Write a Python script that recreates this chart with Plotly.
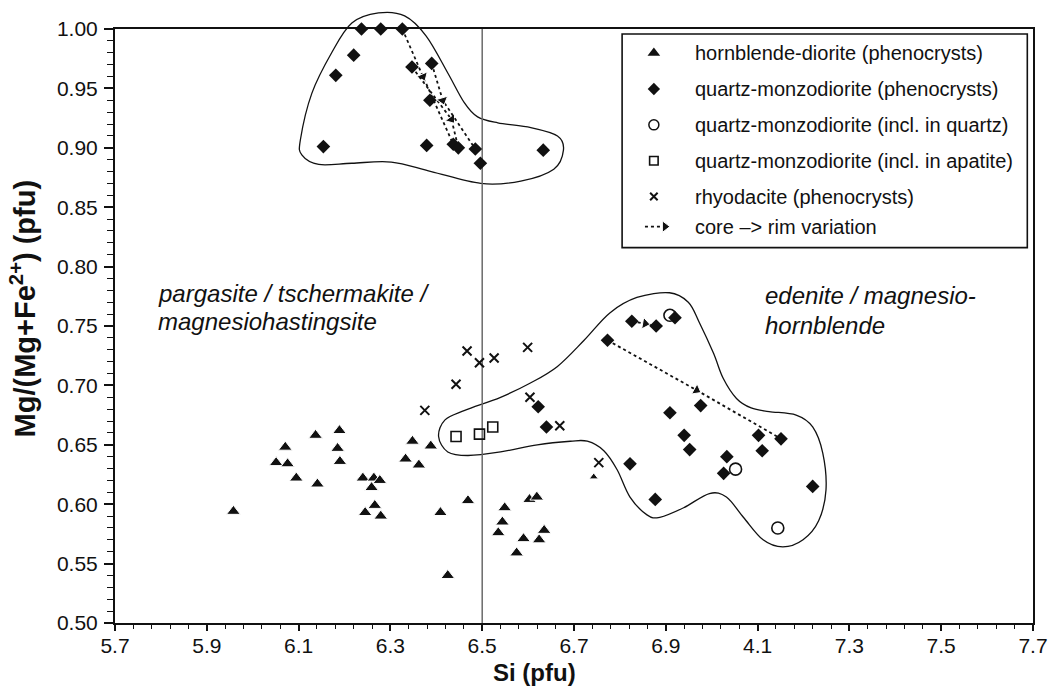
import plotly.graph_objects as go

# ---------------- data (Si pfu, Mg/(Mg+Fe2+)) ----------------
hbl_dior_si = [5.958, 6.051, 6.076, 6.071, 6.095, 6.137, 6.141, 6.189, 6.185, 6.190,
               6.240, 6.264, 6.277, 6.259, 6.245, 6.266, 6.279, 6.348, 6.388, 6.333,
               6.362, 6.409, 6.469, 6.425, 6.549, 6.544, 6.535, 6.603, 6.619, 6.590,
               6.575, 6.624, 6.635, 6.743]
hbl_dior_mg = [0.594, 0.635, 0.634, 0.648, 0.622, 0.658, 0.617, 0.662, 0.647, 0.636,
               0.622, 0.622, 0.620, 0.614, 0.593, 0.599, 0.590, 0.653, 0.649, 0.638,
               0.633, 0.593, 0.603, 0.540, 0.597, 0.585, 0.576, 0.604, 0.606, 0.571,
               0.559, 0.570, 0.578, 0.623]

qmd_pheno_si = [6.237, 6.279, 6.326, 6.220, 6.181, 6.347, 6.390, 6.386, 6.154, 6.379,
                6.437, 6.448, 6.485, 6.496, 6.633,
                6.826, 6.879, 6.920, 6.773, 6.976, 6.909, 6.940, 6.952, 7.102, 7.151,
                7.110, 7.033, 7.026, 7.220, 6.877, 6.822, 6.622, 6.640]
qmd_pheno_mg = [1.000, 1.000, 1.000, 0.978, 0.961, 0.968, 0.971, 0.940, 0.901, 0.902,
                0.903, 0.900, 0.899, 0.887, 0.898,
                0.754, 0.750, 0.757, 0.738, 0.683, 0.677, 0.658, 0.646, 0.658, 0.655,
                0.645, 0.640, 0.626, 0.615, 0.604, 0.634, 0.682, 0.665]

qmd_qtz_si = [6.909, 7.052, 7.144]
qmd_qtz_mg = [0.759, 0.6295, 0.580]

qmd_ap_si = [6.443, 6.494, 6.523]
qmd_ap_mg = [0.657, 0.659, 0.665]

rhyo_si = [6.467, 6.494, 6.526, 6.599, 6.443, 6.375, 6.604, 6.669, 6.754]
rhyo_mg = [0.729, 0.719, 0.723, 0.732, 0.701, 0.679, 0.690, 0.666, 0.635]

# core -> rim trajectories (core, intermediate, rim)
core_rim_si = [[6.326, 6.371, 6.437], [6.347, 6.433, 6.448], [6.390, 6.414, 6.485],
               [6.826, 6.855, 6.879], [6.773, 6.967, 7.151]]
core_rim_mg = [[1.000, 0.960, 0.903], [0.968, 0.924, 0.900], [0.971, 0.940, 0.899],
               [0.754, 0.752, 0.750], [0.738, 0.696, 0.655]]

# field outlines (data units)
outline_top_si = [6.104, 6.129, 6.172, 6.216, 6.274, 6.331, 6.378, 6.425, 6.461, 6.490,
                  6.534, 6.606, 6.664, 6.677, 6.656, 6.584, 6.497, 6.389, 6.302, 6.216,
                  6.144, 6.107]
outline_top_mg = [0.907, 0.946, 0.980, 1.005, 1.0135, 1.011, 0.994, 0.963, 0.938, 0.926,
                  0.921, 0.917, 0.910, 0.898, 0.882, 0.872, 0.870, 0.880, 0.888, 0.887,
                  0.886, 0.894]
outline_low_si = [6.405, 6.419, 6.462, 6.540, 6.605, 6.664, 6.722, 6.778, 6.837, 6.908,
                  6.949, 6.973, 7.004, 7.025, 7.054, 7.086, 7.125, 7.184, 7.220, 7.242,
                  7.249, 7.233, 7.199, 7.155, 7.112, 7.069, 7.032, 6.995, 6.939, 6.887,
                  6.859, 6.822, 6.794, 6.765, 6.729, 6.692, 6.620, 6.540, 6.469, 6.425]
outline_low_mg = [0.657, 0.671, 0.679, 0.690, 0.702, 0.716, 0.738, 0.761, 0.774, 0.778,
                  0.770, 0.753, 0.727, 0.706, 0.689, 0.681, 0.678, 0.675, 0.665, 0.643,
                  0.612, 0.586, 0.570, 0.564, 0.570, 0.589, 0.606, 0.609, 0.597, 0.589,
                  0.591, 0.606, 0.629, 0.645, 0.653, 0.653, 0.650, 0.644, 0.641, 0.644]

x_tickvals = [5.7, 5.9, 6.1, 6.3, 6.5, 6.7, 6.9, 7.1, 7.3, 7.5, 7.7]
x_ticktext = ["5.7", "5.9", "6.1", "6.3", "6.5", "6.7", "6.9", "4.1", "7.3", "7.5", "7.7"]
y_tickvals = [0.50, 0.55, 0.60, 0.65, 0.70, 0.75, 0.80, 0.85, 0.90, 0.95, 1.00]

legend_labels = ["hornblende-diorite (phenocrysts)",
                 "quartz-monzodiorite (phenocrysts)",
                 "quartz-monzodiorite (incl. in quartz)",
                 "quartz-monzodiorite (incl. in apatite)",
                 "rhyodacite (phenocrysts)",
                 "core \u2013> rim variation"]

# ---------------- figure ----------------
X0, X1 = 5.7, 7.7
Y0, Y1 = 0.5, 1.0
FONT = "Liberation Sans, Arial, Helvetica, sans-serif"
BLK = "#111111"


def to_paper(xs, ys):
    return ([(x - X0) / (X1 - X0) for x in xs], [(y - Y0) / (Y1 - Y0) for y in ys])


def smooth_closed_path(xs, ys):
    px, py = to_paper(xs, ys)
    n = len(px)
    d = f"M{px[0]:.5f},{py[0]:.5f}"
    for i in range(n):
        p0 = (px[i - 1], py[i - 1])
        p1 = (px[i], py[i])
        p2 = (px[(i + 1) % n], py[(i + 1) % n])
        p3 = (px[(i + 2) % n], py[(i + 2) % n])
        c1 = (p1[0] + (p2[0] - p0[0]) / 6, p1[1] + (p2[1] - p0[1]) / 6)
        c2 = (p2[0] - (p3[0] - p1[0]) / 6, p2[1] - (p3[1] - p1[1]) / 6)
        d += (f" C{c1[0]:.5f},{c1[1]:.5f} {c2[0]:.5f},{c2[1]:.5f}"
              f" {p2[0]:.5f},{p2[1]:.5f}")
    return d + " Z"


fig = go.Figure()

# core -> rim dotted arrows
for xs, ys in zip(core_rim_si, core_rim_mg):
    fig.add_trace(go.Scatter(
        x=xs, y=ys, mode="lines+markers", cliponaxis=False,
        line=dict(color=BLK, width=1.8, dash="dot"),
        marker=dict(symbol="triangle-up", size=[0, 10, 0], color=BLK, opacity=1,
                    angleref="previous"),
        hoverinfo="skip"))

tri_sizes = [12] * (len(hbl_dior_si) - 1) + [8]
fig.add_trace(go.Scatter(x=hbl_dior_si, y=hbl_dior_mg, mode="markers", cliponaxis=False,
                         marker=dict(symbol="triangle-up", size=tri_sizes, color=BLK,
                                     opacity=1)))
fig.add_trace(go.Scatter(x=qmd_pheno_si, y=qmd_pheno_mg, mode="markers", cliponaxis=False,
                         marker=dict(symbol="diamond", size=10.5, color=BLK)))
fig.add_trace(go.Scatter(x=qmd_qtz_si, y=qmd_qtz_mg, mode="markers", cliponaxis=False,
                         marker=dict(symbol="circle-open", size=12, color=BLK,
                                     line=dict(width=1.6))))
fig.add_trace(go.Scatter(x=qmd_ap_si, y=qmd_ap_mg, mode="markers", cliponaxis=False,
                         marker=dict(symbol="square-open", size=10, color=BLK,
                                     line=dict(width=1.6))))
fig.add_trace(go.Scatter(x=rhyo_si, y=rhyo_mg, mode="markers", cliponaxis=False,
                         marker=dict(symbol="x-thin-open", size=9, color=BLK,
                                     line=dict(width=2, color=BLK))))

# ---------------- manual legend (overlay axes in 0..1 units) ----------------
leg_sym_x = 0.587
leg_txt_x = 0.630
leg_rows = [0.9596, 0.8989, 0.8386, 0.7781, 0.7179, 0.6673]
leg_syms = [dict(symbol="triangle-up", size=11, color=BLK),
            dict(symbol="diamond", size=9.5, color=BLK),
            dict(symbol="circle-open", size=10, color=BLK, line=dict(width=1.5)),
            dict(symbol="square-open", size=8.5, color=BLK, line=dict(width=1.6)),
            dict(symbol="x-thin-open", size=7.5, color=BLK, line=dict(width=2, color=BLK))]
for yrow, m in zip(leg_rows[:5], leg_syms):
    fig.add_trace(go.Scatter(x=[leg_sym_x], y=[yrow], xaxis="x2", yaxis="y2",
                             mode="markers", marker=m, cliponaxis=False,
                             hoverinfo="skip"))
fig.add_trace(go.Scatter(x=[0.5773, 0.5990], y=[leg_rows[5], leg_rows[5]],
                         xaxis="x2", yaxis="y2", mode="lines+markers", cliponaxis=False,
                         line=dict(color=BLK, width=1.8, dash="dot"),
                         marker=dict(symbol="triangle-right", size=[0, 10], color=BLK,
                                     opacity=1),
                         hoverinfo="skip"))

annotations = []
for yrow, lab in zip(leg_rows, legend_labels):
    annotations.append(dict(x=leg_txt_x, y=yrow, xref="paper", yref="paper",
                            text=lab, showarrow=False, xanchor="left", yanchor="middle",
                            font=dict(family=FONT, size=20, color=BLK)))

# field names
field_texts = [("pargasite / tschermakite /", 0.0452, 0.5555),
               ("magnesiohastingsite", 0.0452, 0.5080),
               ("edenite / magnesio-", 0.7062, 0.5510),
               ("hornblende", 0.7062, 0.5005)]
for t, xp, yp in field_texts:
    annotations.append(dict(x=xp, y=yp, xref="paper", yref="paper", text=f"<i>{t}</i>",
                            showarrow=False, xanchor="left", yanchor="middle",
                            font=dict(family=FONT, size=24, color=BLK)))

# axis titles
annotations.append(dict(x=-0.1, y=0.53, xref="paper", yref="paper",
                        text="<b>Mg/(Mg+Fe<sup>2+</sup>) (pfu)</b>", textangle=-90,
                        showarrow=False, xanchor="center", yanchor="middle",
                        font=dict(family=FONT, size=29, color=BLK)))
annotations.append(dict(x=0.457, y=-0.083, xref="paper", yref="paper",
                        text="<b>Si (pfu)</b>", showarrow=False,
                        xanchor="center", yanchor="middle",
                        font=dict(family=FONT, size=24, color=BLK)))

shapes = [
    dict(type="path", xref="paper", yref="paper",
         path=smooth_closed_path(outline_top_si, outline_top_mg),
         line=dict(color=BLK, width=1.3), layer="below"),
    dict(type="path", xref="paper", yref="paper",
         path=smooth_closed_path(outline_low_si, outline_low_mg),
         line=dict(color=BLK, width=1.3), layer="below"),
    dict(type="line", xref="x", yref="paper", x0=6.5, x1=6.5, y0=0, y1=1,
         line=dict(color="#6a6a6a", width=1.5), layer="below"),
    dict(type="rect", xref="paper", yref="paper", x0=0.5524, x1=0.9938,
         y0=0.6319, y1=0.9916, line=dict(color=BLK, width=1.6),
         fillcolor="white", layer="below"),
]

fig.update_layout(
    width=1060, height=695,
    margin=dict(l=115, r=22, t=29, b=72),
    paper_bgcolor="white", plot_bgcolor="white",
    showlegend=False,
    font=dict(family=FONT, color=BLK),
    annotations=annotations, shapes=shapes,
    xaxis=dict(range=[X0, X1], tickvals=x_tickvals, ticktext=x_ticktext,
               showgrid=False, zeroline=False, showline=True, mirror=True,
               linecolor=BLK, linewidth=2, ticks="outside", ticklen=6, tickwidth=1.5,
               tickcolor=BLK, tickfont=dict(family=FONT, size=21, color=BLK),
               ticklabelstandoff=-3,
               minor=dict(dtick=0.04, tick0=5.7, ticks="outside", ticklen=4,
                          tickwidth=1.2, tickcolor=BLK)),
    yaxis=dict(range=[Y0, Y1], tickvals=y_tickvals, tickformat=".2f",
               showgrid=False, zeroline=False, showline=True, mirror=True,
               linecolor=BLK, linewidth=2, ticks="outside", ticklen=9, tickwidth=1.5,
               tickcolor=BLK, tickfont=dict(family=FONT, size=21, color=BLK),
               ticklabelstandoff=2,
               minor=dict(dtick=0.01, tick0=0.5, ticks="outside", ticklen=6,
                          tickwidth=1.2, tickcolor=BLK)),
    xaxis2=dict(overlaying="x", range=[0, 1], visible=False, fixedrange=True),
    yaxis2=dict(overlaying="y", range=[0, 1], visible=False, fixedrange=True),
)

fig.write_html("out.html",
               config={"displayModeBar": False},
               post_script="document.body.style.margin='0';"
                           "document.body.style.overflow='hidden';")
